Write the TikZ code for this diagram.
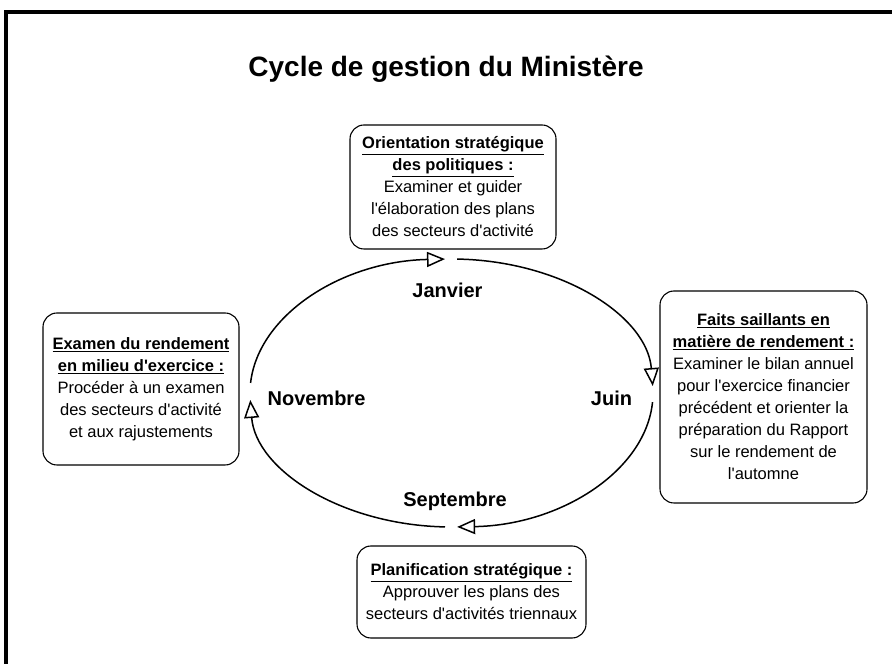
\documentclass[tikz,border=0pt]{standalone}
\usepackage{fontspec}
\setmainfont{Liberation Sans}[Ligatures=TeXOff]
\usetikzlibrary{arrows.meta}

\begin{document}
\begin{tikzpicture}[%
    x=1pt, y=1pt,
    >={Triangle[open, length=18pt, width=15pt]},
    phase/.style={draw, rounded corners=14pt, line width=1.1pt, align=center,
      inner sep=0pt, font=\fontsize{16.5}{22}\selectfont},
    month/.style={anchor=base, font=\bfseries\fontsize{20}{24}\selectfont},
    flow/.style={->, line width=1.5pt}
  ]
    \clip (0,0) rectangle (892,664);
    \draw[line width=4pt] (5.5,-20) |- (920,652);

    \node[anchor=base, font=\bfseries\fontsize{28}{34}\selectfont] (title) at (446,587)
      {Cycle de gestion du Ministère};

    \coordinate (ctr) at (451.5,271);

    % the four phases
    \node[phase, minimum width=206pt, minimum height=124pt] (orient) at (453,477)
      {\underline{\textbf{Orientation stratégique}}\\ \underline{\textbf{des politiques :}}\\
       Examiner et guider\\ l'élaboration des plans\\ des secteurs d'activité};
    \node[phase, minimum width=207pt, minimum height=212pt] (faits) at (763.5,267)
      {\underline{\textbf{Faits saillants en}}\\ \underline{\textbf{matière de rendement :}}\\
       Examiner le bilan annuel\\ pour l'exercice financier\\ précédent et orienter la\\
       préparation du Rapport\\ sur le rendement de\\ l'automne};
    \node[phase, minimum width=229pt, minimum height=92pt] (planif) at (471.5,72)
      {\underline{\textbf{Planification stratégique :}}\\ Approuver les plans des\\
       secteurs d'activités triennaux};
    \node[phase, minimum width=196pt, minimum height=152pt] (examen) at (141,275)
      {\underline{\textbf{Examen du rendement}}\\ \underline{\textbf{en milieu d'exercice :}}\\
       Procéder à un examen\\ des secteurs d'activité\\ et aux rajustements};

    % months
    \node[month] (jan) at (447.5,366) {Janvier};
    \node[month] (juin) at (611.5,258) {Juin};
    \node[month] (sept) at (455,157) {Septembre};
    \node[month] (nov) at (316.5,258) {Novembre};

    % the cycle
    \draw[flow] (ctr) ++(175.7:201.5pt and 134pt)
      arc[start angle=175.7, end angle=91.85, x radius=201.5pt, y radius=134pt];
    \draw[flow] (ctr) ++(88.4:201.5pt and 134pt)
      arc[start angle=88.4, end angle=3, x radius=201.5pt, y radius=134pt];
    \draw[flow] (ctr) ++(-3.9:201.5pt and 134pt)
      arc[start angle=-3.9, end angle=-88.4, x radius=201.5pt, y radius=134pt];
    \draw[flow] (ctr) ++(-91.85:201.5pt and 134pt)
      arc[start angle=-91.85, end angle=-177, x radius=201.5pt, y radius=134pt];
  \end{tikzpicture}
\end{document}
